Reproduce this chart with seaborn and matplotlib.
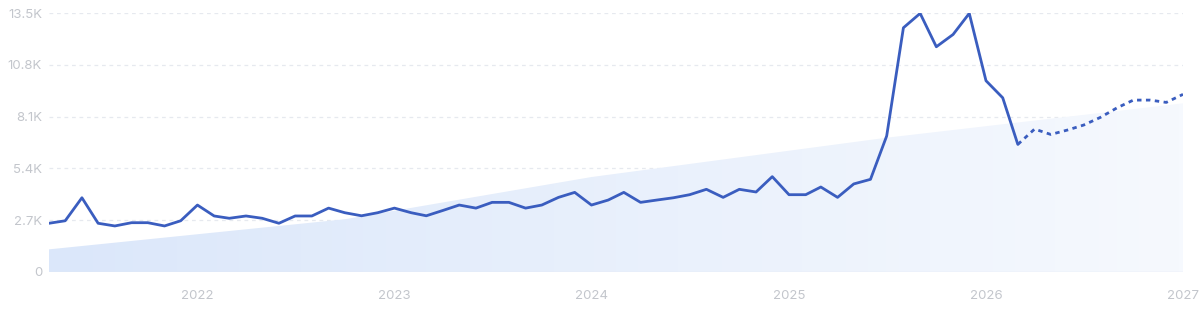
import numpy as np
import pandas as pd
import matplotlib
matplotlib.use("Agg")
import matplotlib.pyplot as plt
import matplotlib.dates as mdates
from matplotlib.colors import LinearSegmentedColormap
from matplotlib.ticker import FixedLocator, FuncFormatter
import seaborn as sns

# ---- data (thousands) ----
actual_values = [
    2.54, 2.67, 3.87, 2.54, 2.40, 2.57, 2.57, 2.40, 2.67,                 # 2021 Apr-Dec
    3.49, 2.92, 2.80, 2.92, 2.80, 2.54, 2.92, 2.92, 3.33, 3.09, 2.93, 3.09,  # 2022
    3.33, 3.09, 2.93, 3.21, 3.49, 3.33, 3.63, 3.63, 3.33, 3.49, 3.89, 4.15,  # 2023
    3.49, 3.75, 4.15, 3.63, 3.75, 3.87, 4.03, 4.31, 3.89, 4.31, 4.17, 4.97,  # 2024
    4.03, 4.03, 4.43, 3.89, 4.59, 4.83, 7.09, 12.73, 13.48, 11.74, 12.38, 13.48,  # 2025
    9.97, 9.08, 6.65,                                                     # 2026 Jan-Mar
]
actual_start = "2021-04-01"
forecast_values = [7.45, 7.17, 7.40, 7.66, 8.06, 8.56, 8.96, 8.96, 8.84, 9.26]  # 2026 Apr - 2027 Jan
forecast_start = "2026-04-01"
trend_dates = ["2021-04-01", "2022-10-01", "2024-01-01", "2025-07-01", "2027-01-01"]
trend_values = [1.18, 2.75, 4.95, 7.00, 8.79]
y_ticks = [0, 2.7, 5.4, 8.1, 10.8, 13.5]
y_tick_labels = ["0", "2.7K", "5.4K", "8.1K", "10.8K", "13.5K"]
x_tick_years = [2022, 2023, 2024, 2025, 2026, 2027]

actual = pd.DataFrame({
    "date": pd.date_range(actual_start, periods=len(actual_values), freq="MS"),
    "value": actual_values,
})
fc_dates = pd.date_range(forecast_start, periods=len(forecast_values), freq="MS")
forecast = pd.DataFrame({
    "date": [actual["date"].iloc[-1]] + list(fc_dates),
    "value": [actual_values[-1]] + forecast_values,
})
trend = pd.DataFrame({"date": pd.to_datetime(trend_dates), "value": trend_values})

# ---- figure ----
sns.set_theme(style="white")
plt.rcParams["font.family"] = ["Inter", "DejaVu Sans"]
fig = plt.figure(figsize=(12, 3.11), dpi=100)
ax = fig.add_axes([49 / 1200, 1 - 272 / 311, (1183 - 49) / 1200, (272 - 13) / 311])

xmin = pd.Timestamp("2021-04-01")
xmax = pd.Timestamp("2027-01-01")
ax.set_xlim(xmin, xmax)
ax.set_ylim(0, 13.5)

# gradient trend area
tx = mdates.date2num(trend["date"])
poly = ax.fill_between(tx, 0, trend["value"], color="none", lw=0, zorder=1)
cmap = LinearSegmentedColormap.from_list("g", ["#dbe7fa", "#f6f9fe"])
grad = np.linspace(0, 1, 256).reshape(1, -1)
im = ax.imshow(grad, cmap=cmap, aspect="auto",
               extent=[mdates.date2num(xmin), mdates.date2num(xmax), 0, 13.5],
               origin="lower", zorder=1)
path = poly.get_paths()[0]
im.set_clip_path(path, transform=ax.transData)

# grid
for yv in y_ticks[1:]:
    ax.axhline(yv, color="#e6e9ef", lw=0.9, ls=(0, (3, 3)), zorder=0)
ax.axhline(0, color="#e3e8f4", lw=1.0, zorder=2)

# lines
sns.lineplot(data=actual, x="date", y="value", ax=ax, color="#3a5dbf", lw=2.0, zorder=4)
sns.lineplot(data=forecast, x="date", y="value", ax=ax, color="#3a5dbf", lw=2.0, zorder=4,
             linestyle=(0, (1.6, 1.6)))

# axes styling
for s in ax.spines.values():
    s.set_visible(False)
ax.set_xlabel("")
ax.set_ylabel("")
ax.yaxis.set_major_locator(FixedLocator(y_ticks))
ax.set_yticklabels(y_tick_labels)
ax.set_xticks([pd.Timestamp(f"{y}-01-01") for y in x_tick_years])
ax.set_xticklabels([str(y) for y in x_tick_years])
ax.tick_params(axis="y", length=0, pad=5, labelsize=9.5, labelcolor="#c3c6cc")
ax.tick_params(axis="x", length=0, pad=13, labelsize=9.5, labelcolor="#c3c6cc")
ax.grid(False)

fig.savefig("out.png", dpi=100)
